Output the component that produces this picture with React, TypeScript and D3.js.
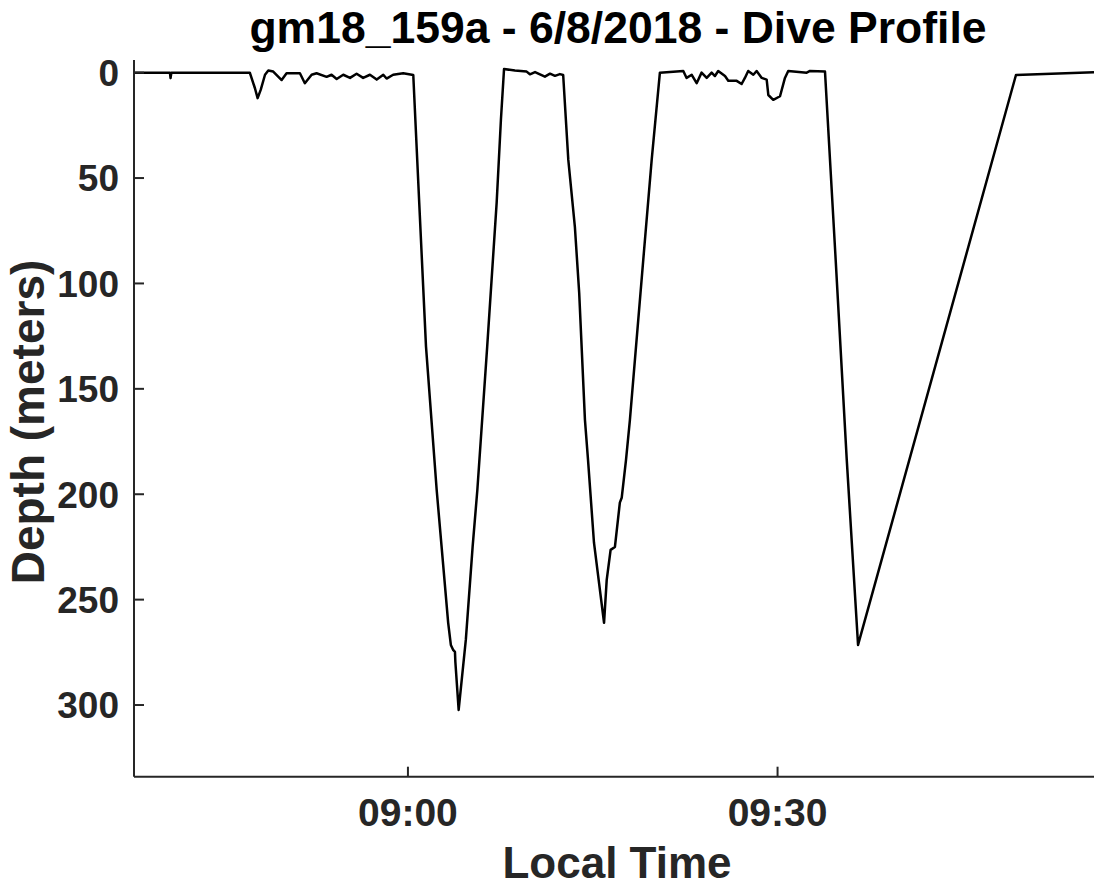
import React from "react";
import * as d3 from "d3";

const times: string[] = [
  "08:37:51","08:40:41","08:40:44","08:40:48","08:47:10","08:47:35","08:47:48","08:48:03","08:48:24","08:48:40",
  "08:49:04","08:49:45","08:50:09","08:51:14","08:51:38","08:52:11","08:52:35","08:53:24","08:53:48","08:54:13",
  "08:54:45","08:55:18","08:55:50","08:56:22","08:56:55","08:57:28","08:58:00","08:58:16","08:58:48","08:59:37",
  "09:00:26","09:00:55","09:01:28","09:02:20","09:02:44","09:03:16","09:03:29","09:03:41","09:03:49","09:03:51",
  "09:04:07","09:04:42","09:05:15","09:05:38","09:06:26","09:07:12","09:07:33","09:07:48","09:08:41","09:09:38",
  "09:09:54","09:10:19","09:11:07","09:11:32","09:11:56","09:12:20","09:12:36","09:13:01","09:13:33","09:13:54",
  "09:14:22","09:14:37","09:15:06","09:15:55","09:16:08","09:16:27","09:16:48","09:17:12","09:17:21","09:17:42",
  "09:18:01","09:19:06","09:19:47","09:20:27","09:22:21","09:22:37","09:23:02","09:23:26","09:23:50","09:24:15",
  "09:24:39","09:24:55","09:25:11","09:25:44","09:26:00","09:26:41","09:27:05","09:27:21","09:27:37","09:28:02",
  "09:28:18","09:28:43","09:29:07","09:29:15","09:29:39","09:30:12","09:30:36","09:30:52","09:32:22","09:32:38",
  "09:33:51","09:34:43","09:35:37","09:36:32","09:49:21","09:55:41",
];

const depths: number[] = [
  0, 0, 2.6, 0, 0, 7.4, 12.1, 8.2, 1, -1,
  -0.5, 3.5, 0.3, 0.3, 5, 1, 0.3, 2, 1, 3,
  1, 2.5, 0.5, 2.5, 1, 3.3, 1, 2.8, 1, 0.3,
  1.1, 61.8, 130, 198, 225, 261, 271.5, 274, 274.8, 279.6,
  302.3, 269, 225, 198, 130, 61.8, 22, -1.7, -1, -0.5,
  0.8, -0.3, 1.9, 0.5, 1.5, 0.7, 1.1, 41.4, 73.2, 104.5,
  164.7, 183.7, 223, 261, 240.6, 226.4, 225, 204, 201.7, 183.7,
  164.7, 88.8, 41.4, 0, -0.8, 2.5, 1, 5, 0, 2.5,
  0, 1.6, -0.8, 1.6, 3.8, 3.9, 5.4, 2.5, -0.8, 1,
  -0.8, 2.5, 3.3, 10.6, 12.9, 11.2, 2.5, -0.8, 0, -0.8,
  -0.5, 88.8, 183.7, 271.5, 1.1, -0.2,
];

const xTickLabels: string[] = ["09:00", "09:30"];
const yTickValues: number[] = [0, 50, 100, 150, 200, 250, 300];
const xDomain: string[] = ["08:37:46", "09:55:41"];
const yDomain: number[] = [-6, 334];

const titleText = "gm18_159a - 6/8/2018 - Dive Profile";
const xLabelText = "Local Time";
const yLabelText = "Depth (meters)";

const parse = d3.timeParse("%H:%M:%S");

export default function App() {
  const W = 1094, H = 886;
  const left = 134, right = 1094, top = 60, bottom = 776.7;
  const x = d3.scaleTime()
    .domain([parse(xDomain[0])!, parse(xDomain[1])!])
    .range([left, right]);
  const y = d3.scaleLinear().domain(yDomain).range([top, bottom]);
  const data = times.map((t, i) => ({ t: parse(t)!, d: depths[i] }));
  const line = d3.line<{ t: Date; d: number }>().x((p) => x(p.t)).y((p) => y(p.d));
  const font = "'Liberation Sans', Arial, Helvetica, sans-serif";
  const axisColor = "#262626";
  return (
    <svg width={W} height={H} style={{ position: "absolute", left: 0, top: 0, background: "#fff" }}
      fontFamily={font}>
      <defs>
        <clipPath id="plotclip">
          <rect x={left} y={top} width={right - left} height={bottom - top} />
        </clipPath>
      </defs>
      <path d={line(data) || ""} fill="none" stroke="#000" strokeWidth={2.5} strokeLinejoin="round"
        clipPath="url(#plotclip)" />
      <line x1={left} x2={left} y1={top} y2={bottom} stroke={axisColor} strokeWidth={2} />
      <line x1={left} x2={right} y1={bottom} y2={bottom} stroke={axisColor} strokeWidth={2} />
      {yTickValues.map((v) => (
        <g key={"y" + v}>
          <line x1={left} x2={left + 10} y1={y(v)} y2={y(v)} stroke={axisColor} strokeWidth={2} />
          <text x={left - 15} y={y(v)} dy="0.36em" textAnchor="end" fontSize={37} fontWeight="bold"
            fill={axisColor}>{v}</text>
        </g>
      ))}
      {xTickLabels.map((lab) => {
        const xv = x(parse(lab + ":00")!);
        return (
          <g key={"x" + lab}>
            <line x1={xv} x2={xv} y1={bottom} y2={bottom - 10} stroke={axisColor} strokeWidth={2} />
            <text x={xv} y={bottom + 49} textAnchor="middle" fontSize={39} fontWeight="bold"
              fill={axisColor}>{lab}</text>
          </g>
        );
      })}
      <text x={617} y={878} textAnchor="middle" fontSize={44} fontWeight="bold"
        fill={axisColor}>{xLabelText}</text>
      <text transform={`translate(44, 422) rotate(-90)`} textAnchor="middle"
        fontSize={46} fontWeight="bold" fill={axisColor}>{yLabelText}</text>
      <text x={618} y={43} textAnchor="middle" fontSize={44.5} fontWeight="bold" fill="#000">{titleText}</text>
    </svg>
  );
}
